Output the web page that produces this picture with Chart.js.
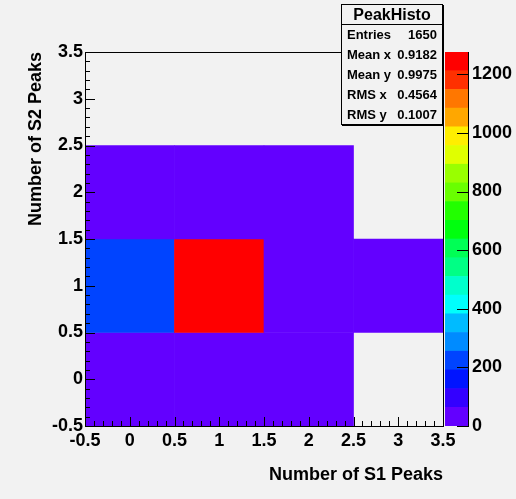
<!DOCTYPE html>
<html>
<head>
<meta charset="utf-8">
<script src="https://cdn.jsdelivr.net/npm/chart.js"></script>
<style>
  html, body { margin: 0; padding: 0; background: #f2f2f2; }
  #wrap { position: relative; width: 516px; height: 499px; overflow: hidden; }
  #histo { position: absolute; left: 0; top: 0; }
  #palette { position: absolute; left: 440px; top: 0; }
  #stats {
    position: absolute; left: 341px; top: 4px; width: 102px; height: 121px;
    box-sizing: border-box; border: 1px solid #000; box-shadow: 1px 1px 0 #000;
    background: #f2f2f2; font-family: "Liberation Sans", Arial, sans-serif; font-weight: bold; color: #000;
  }
  #stats .title { height: 19px; line-height: 19px; text-align: center; font-size: 16px; border-bottom: 1px solid #000; }
  #stats .row { height: 20px; line-height: 20px; font-size: 13px; padding: 0 5px; display: flex; justify-content: space-between; }
</style>
</head>
<body>
<div id="wrap">
  <canvas id="histo" width="516" height="499"></canvas>
  <canvas id="palette" width="76" height="499"></canvas>
  <div id="stats"></div>
</div>
<script>
// bin centres (number of S1 peaks on x, number of S2 peaks on y)
const xBins = [0, 1, 2, 3];
const yBins = [0, 1, 2, 3];
// entries per cell, one array per S2 row
const countsS2_0 = [4, 3, 3, 0];
const countsS2_1 = [235, 1276, 58, 55];
const countsS2_2 = [2, 2, 2, 0];
const countsS2_3 = [0, 0, 0, 0];
const counts = [countsS2_0, countsS2_1, countsS2_2, countsS2_3];

const xTickLabels = [-0.5, 0, 0.5, 1, 1.5, 2, 2.5, 3, 3.5];
const yTickLabels = [-0.5, 0, 0.5, 1, 1.5, 2, 2.5, 3, 3.5];
const zTickLabels = [0, 200, 400, 600, 800, 1000, 1200];

const statNames = ['Entries', 'Mean x', 'Mean y', 'RMS x', 'RMS y'];
const statValues = ['1650', '0.9182', '0.9975', '0.4564', '0.1007'];

const FONT = '"Liberation Sans", Arial, sans-serif';
Chart.defaults.font.family = FONT;
Chart.defaults.color = '#000';

// ROOT "pretty" palette, 20 contour levels
const nLevels = 20;
const zMax = Math.max(...counts.flat());
function levelColor(k) {
  const idx = Math.floor((k + 0.99) * 50 / nLevels);
  const hue = 280 - (idx + 1) * 5.6;
  return 'hsl(' + hue + ',100%,50%)';
}
function colorFor(n) {
  const k = Math.min(nLevels - 1, Math.floor(0.01 + n / zMax * nLevels));
  return levelColor(k);
}

const cells = [];
counts.forEach((row, j) => {
  row.forEach((n, i) => {
    if (n > 0) cells.push({ x: xBins[i], y: [yBins[j] - 0.5, yBins[j] + 0.5], n: n });
  });
});
const xEdges = xBins.map(b => b - 0.5).concat([xBins[xBins.length - 1] + 0.5]);

// minor ticks: 5 per major interval
function withMinor(majors) {
  const out = [];
  for (let i = 0; i < majors.length - 1; i++) {
    const step = (majors[i + 1] - majors[i]) / 5;
    for (let m = 0; m < 5; m++) out.push(majors[i] + m * step);
  }
  out.push(majors[majors.length - 1]);
  return out;
}
const isMajor = v => Math.abs(v * 2 - Math.round(v * 2)) < 1e-6;
const fmt = v => String(Math.round(v * 10) / 10);

// frame box + ROOT style ticks pointing inwards, drawn last so they sit on the cells
const inwardTicks = {
  id: 'inwardTicks',
  afterDraw(chart, args, opts) {
    const c = chart.ctx;
    c.save();
    c.strokeStyle = '#000';
    c.lineWidth = 1;
    c.beginPath();
    opts.axes.forEach(ax => {
      const s = chart.scales[ax.id];
      s.ticks.forEach(t => {
        const len = isMajor(t.value) ? ax.major : ax.minor;
        const p = Math.round(s.getPixelForValue(t.value)) + 0.5;
        if (s.isHorizontal()) {
          c.moveTo(p, s.top); c.lineTo(p, s.top - len);
        } else if (s.position === 'left') {
          c.moveTo(s.right, p); c.lineTo(s.right + len, p);
        } else {
          c.moveTo(s.left + 1, p); c.lineTo(s.left - len, p);
        }
      });
    });
    c.stroke();
    if (opts.frame) {
      const a = chart.chartArea;
      c.strokeRect(Math.round(a.left) + 0.5, Math.round(a.top) + 0.5, Math.round(a.right - a.left), Math.round(a.bottom - a.top));
    } else {
      const s = chart.scales.y;
      const x = Math.round(s.left) + 0.5;
      c.beginPath();
      c.moveTo(x, s.top); c.lineTo(x, s.bottom);
      c.stroke();
    }
    c.restore();
  }
};

function axisOpts(majors, extra) {
  return Object.assign({
    type: 'linear',
    min: majors[0],
    max: majors[majors.length - 1],
    offset: false,
    afterBuildTicks: s => { s.ticks = withMinor(majors).map(v => ({ value: v })); },
    border: { display: true, color: '#000', width: 1 },
    grid: { display: false, drawTicks: false, tickLength: 0, offset: false }
  }, extra);
}

new Chart(document.getElementById('histo'), {
  type: 'bar',
  data: {
    datasets: [{
      xAxisID: 'xb',
      data: cells,
      backgroundColor: cells.map(c => colorFor(c.n)),
      borderWidth: 0,
      barPercentage: 1,
      categoryPercentage: 1,
      grouped: false
    }]
  },
  options: {
    responsive: false,
    animation: false,
    layout: { padding: { top: 52, right: 73, left: 0, bottom: 0 } },
    plugins: {
      legend: { display: false },
      tooltip: { enabled: false },
      inwardTicks: { frame: true, axes: [{ id: 'x', major: 9, minor: 5 }, { id: 'y', major: 10, minor: 5 }] }
    },
    scales: {
      xb: {
        type: 'linear', display: false, offset: false,
        min: xEdges[0], max: xEdges[xEdges.length - 1],
        afterBuildTicks: s => { s.ticks = xEdges.map(v => ({ value: v })); }
      },
      x: axisOpts(xTickLabels, {
        position: 'bottom',
        afterFit: s => { s.height = 73; },
        ticks: {
          autoSkip: false, maxRotation: 0, minRotation: 0, padding: 4,
          font: { size: 18, weight: 'bold' },
          callback: v => isMajor(v) ? fmt(v) : ''
        },
        title: {
          display: true, text: 'Number of S1 Peaks', align: 'end',
          font: { size: 18, weight: 'bold' }, padding: { top: 0, bottom: 13 }
        }
      }),
      y: axisOpts(yTickLabels, {
        afterFit: s => { s.width = 85; },
        ticks: {
          autoSkip: false, padding: 2,
          font: { size: 18, weight: 'bold' },
          callback: v => isMajor(v) ? fmt(v) : ''
        },
        title: {
          display: true, text: 'Number of S2 Peaks', align: 'end',
          font: { size: 18, weight: 'bold' }, padding: { top: 25, bottom: 0 }
        }
      })
    }
  },
  plugins: [inwardTicks]
});

// colour scale
const levels = [];
for (let k = 0; k < nLevels; k++) {
  levels.push({ lo: k * zMax / nLevels, hi: (k + 1) * zMax / nLevels, color: levelColor(k) });
}

new Chart(document.getElementById('palette'), {
  type: 'bar',
  data: {
    labels: ['z'],
    datasets: levels.map(lv => ({
      data: [[lv.lo, lv.hi]],
      backgroundColor: lv.color,
      borderWidth: 0,
      barPercentage: 1,
      categoryPercentage: 1,
      grouped: false
    }))
  },
  options: {
    responsive: false,
    animation: false,
    layout: { padding: { top: 52, bottom: 73, left: 5, right: 0 } },
    plugins: {
      legend: { display: false },
      tooltip: { enabled: false },
      inwardTicks: { frame: false, axes: [{ id: 'y', major: 11, minor: 11 }] }
    },
    scales: {
      x: { display: false },
      y: {
        position: 'right',
        min: 0,
        max: zMax,
        afterBuildTicks: s => { s.ticks = zTickLabels.map(v => ({ value: v })); },
        afterFit: s => { s.width = 48; },
        border: { display: true, color: '#000', width: 1 },
        grid: { display: false, drawTicks: false, tickLength: 0 },
        ticks: { padding: 4, font: { size: 18, weight: 'bold' }, callback: v => String(v) }
      }
    }
  },
  plugins: [inwardTicks]
});

// statistics box
const stats = document.getElementById('stats');
const title = document.createElement('div');
title.className = 'title';
title.textContent = 'PeakHisto';
stats.appendChild(title);
statNames.forEach((name, i) => {
  const row = document.createElement('div');
  row.className = 'row';
  const a = document.createElement('span');
  a.textContent = name;
  const b = document.createElement('span');
  b.textContent = statValues[i];
  row.appendChild(a);
  row.appendChild(b);
  stats.appendChild(row);
});
</script>
</body>
</html>
